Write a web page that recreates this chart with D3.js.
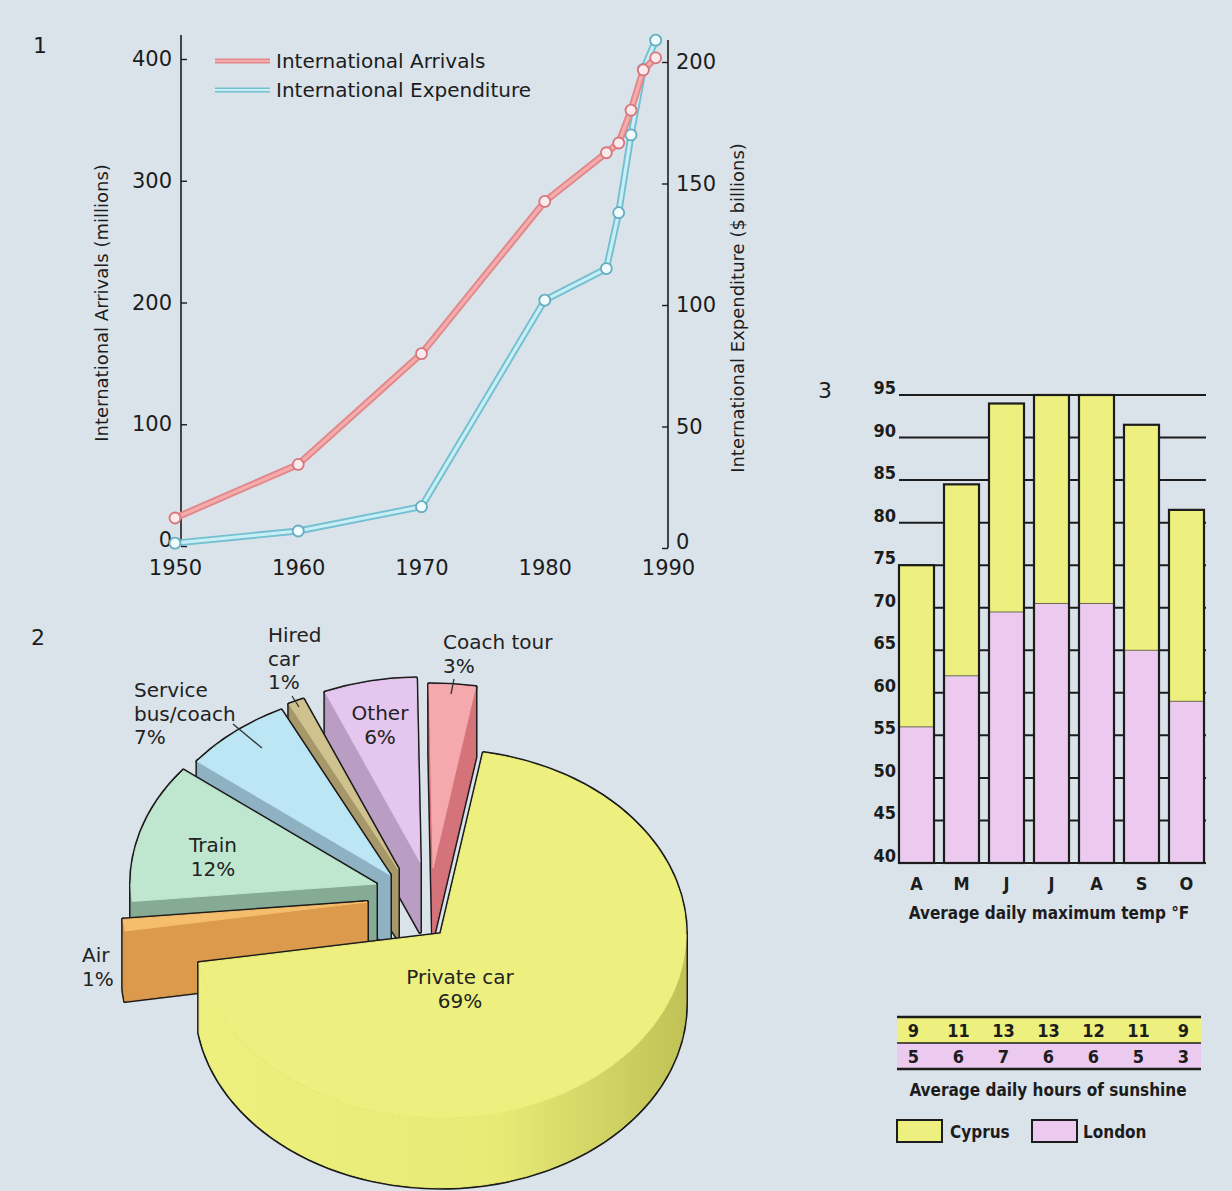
<!DOCTYPE html>
<html>
<head>
<meta charset="utf-8">
<script src="https://cdn.jsdelivr.net/npm/d3@7"></script>
<style>
    html, body { margin: 0; padding: 0; background: #dae3ea; }
    svg { display: block; }
</style>
</head>
<body>
<div id="fig"></div>
<script>
// Three tourism panels: arrivals/expenditure lines, transport-mode pie,
// Cyprus vs London temperature bars with a sunshine table.

// ---- data ----
var years = [1950, 1960, 1970, 1980, 1985, 1986, 1987, 1988, 1989];
var arrivals = [23, 67, 158, 283, 323, 331, 358, 391, 401];        // millions
var expenditure = [2, 7, 17, 102, 115, 138, 170, 197, 209];        // $ billions
var yearTicks = [1950, 1960, 1970, 1980, 1990];
var arrivalTicks = [0, 100, 200, 300, 400];
var expenditureTicks = [0, 50, 100, 150, 200];

var modes = ['Private car', 'Air', 'Train', 'Service bus/coach', 'Hired car', 'Other', 'Coach tour'];
var modeShares = [69, 1, 12, 7, 1, 6, 3];
var modeLabelLines = [['Private car'], ['Air'], ['Train'], ['Service', 'bus/coach'],
                      ['Hired', 'car'], ['Other'], ['Coach tour']];

var months = ['A', 'M', 'J', 'J', 'A', 'S', 'O'];
var cyprusTemp = [75, 84.5, 94, 95, 95, 91.5, 81.5];
var londonTemp = [56, 62, 69.5, 70.5, 70.5, 65, 59];
var tempTicks = [40, 45, 50, 55, 60, 65, 70, 75, 80, 85, 90, 95];
var cyprusSun = [9, 11, 13, 13, 12, 11, 9];
var londonSun = [5, 6, 7, 6, 6, 5, 3];

(function () {
    var W = 1232, H = 1191;
    var INK = '#1c1c1c';
    var SANS = '"DejaVu Sans", sans-serif';
    var COND = '"DejaVu Sans Condensed", "DejaVu Sans", sans-serif';

    var svg = d3.select('#fig').append('svg')
        .attr('width', W).attr('height', H)
        .attr('viewBox', '0 0 ' + W + ' ' + H);
    svg.append('rect').attr('width', W).attr('height', H).attr('fill', '#dae3ea');

    // panel numbers
    [['1', 40, 53], ['2', 38, 645], ['3', 825, 398]].forEach(function (p) {
        svg.append('text').attr('x', p[1]).attr('y', p[2])
            .attr('text-anchor', 'middle')
            .style('font', '22px ' + SANS).attr('fill', INK).text(p[0]);
    });

    // ================= 1 · line chart =================
    var x = d3.scaleLinear().domain([1950, 1990]).range([175, 668]);
    var yL = d3.scaleLinear().domain([0, 400]).range([546, 59]);
    var yR = d3.scaleLinear().domain([0, 200]).range([548, 62]);
    var g1 = svg.append('g');

    var leftX = x(1950) + 6, rightX = x(1990);
    g1.append('line').attr('x1', leftX).attr('x2', leftX).attr('y1', 35).attr('y2', yL(0))
        .attr('stroke', INK).attr('stroke-width', 1.6);
    g1.append('line').attr('x1', rightX).attr('x2', rightX).attr('y1', 40).attr('y2', yR(0))
        .attr('stroke', INK).attr('stroke-width', 1.6);

    function styleAxis(ax, size) {
        ax.select('.domain').remove();
        ax.selectAll('line').attr('stroke', INK).attr('stroke-width', 1.4);
        ax.selectAll('text').attr('fill', INK).style('font', size + 'px ' + SANS);
        // lift the zero label clear of the year labels
        ax.selectAll('.tick').filter(function (d) { return d === 0; })
            .select('text').attr('y', -6);
    }
    styleAxis(g1.append('g').attr('transform', 'translate(' + leftX + ',0)')
        .call(d3.axisLeft(yL).tickValues(arrivalTicks).tickSize(-6).tickPadding(9)), 21);
    styleAxis(g1.append('g').attr('transform', 'translate(' + rightX + ',0)')
        .call(d3.axisRight(yR).tickValues(expenditureTicks).tickSize(-6).tickPadding(8)), 21);
    styleAxis(g1.append('g').attr('transform', 'translate(0,551)')
        .call(d3.axisBottom(x).tickValues(yearTicks).tickFormat(d3.format('d')).tickSize(0).tickPadding(9)), 21);

    var series = [
        { vals: expenditure, y: yR, outer: '#74bfd0', inner: '#c8eef6', dot: '#f0fbfd', dotStroke: '#63adbf' },
        { vals: arrivals, y: yL, outer: '#e2888b', inner: '#f5acad', dot: '#fbeaec', dotStroke: '#d7767c' }
    ];
    series.forEach(function (s) {
        var line = d3.line().x(function (d, i) { return x(years[i]); })
            .y(function (d) { return s.y(d); });
        g1.append('path').datum(s.vals).attr('d', line).attr('fill', 'none')
            .attr('stroke', s.outer).attr('stroke-width', 7).attr('stroke-linejoin', 'round');
        g1.append('path').datum(s.vals).attr('d', line).attr('fill', 'none')
            .attr('stroke', s.inner).attr('stroke-width', 3.2).attr('stroke-linejoin', 'round');
        g1.selectAll(null).data(s.vals).enter().append('circle')
            .attr('cx', function (d, i) { return x(years[i]); })
            .attr('cy', function (d) { return s.y(d); })
            .attr('r', 5.5).attr('fill', s.dot)
            .attr('stroke', s.dotStroke).attr('stroke-width', 1.8);
    });

    // legend
    [['International Arrivals', series[1], 61], ['International Expenditure', series[0], 90]]
        .forEach(function (l) {
            g1.append('line').attr('x1', 215).attr('x2', 270).attr('y1', l[2]).attr('y2', l[2])
                .attr('stroke', l[1].outer).attr('stroke-width', 5);
            g1.append('line').attr('x1', 215).attr('x2', 270).attr('y1', l[2]).attr('y2', l[2])
                .attr('stroke', l[1].inner).attr('stroke-width', 2);
            g1.append('text').attr('x', 276).attr('y', l[2] + 7)
                .style('font', '20px ' + SANS).attr('fill', INK).text(l[0]);
        });

    // axis titles
    g1.append('text').attr('transform', 'translate(108,303) rotate(-90)')
        .attr('text-anchor', 'middle').style('font', '18px ' + SANS).attr('fill', INK)
        .text('International Arrivals (millions)');
    g1.append('text').attr('transform', 'translate(744,308) rotate(-90)')
        .attr('text-anchor', 'middle').style('font', '18px ' + SANS).attr('fill', INK)
        .text('International Expenditure ($ billions)');

    // ================= 2 · exploded 3-D pie =================
    var pieCx = 441, pieCy = 934, R = 245, K = 0.75, DEPTH = 70;
    var pieStart = 10 * Math.PI / 180;
    // screen offsets of each exploded slice (same order as modes)
    var sliceShift = [[0, 0], [-74, -32], [-65, -50], [-51, -59], [-43, -65], [-21, -72], [-8, -66]];
    var sliceTop = ['#edf07e', '#f5be6c', '#bfe6cf', '#bde6f5', '#cfc28f', '#e5c6ee', '#f6a9ac'];
    var sliceSide = ['url(#carSide)', '#db9a4c', '#86ab95', '#8fb2c3', '#a7986a', '#b99dc3', '#d5737a'];

    var defs = svg.append('defs');
    var grad = defs.append('linearGradient').attr('id', 'carSide')
        .attr('x1', 0).attr('x2', 1).attr('y1', 0).attr('y2', 0);
    [[0, '#edf07e'], [0.62, '#e7ea75'], [1, '#c0c256']].forEach(function (s) {
        grad.append('stop').attr('offset', s[0]).attr('stop-color', s[1]);
    });

    var arcs = d3.pie().sort(null).startAngle(pieStart).endAngle(pieStart + 2 * Math.PI)(modeShares);
    var g2 = svg.append('g');

    function drawSlice(i) {
        var a0 = arcs[i].startAngle, a1 = arcs[i].endAngle;
        var cx = pieCx + sliceShift[i][0], cy = pieCy + sliceShift[i][1];
        function pt(t, dz) { return [cx + Math.sin(t) * R, cy - Math.cos(t) * R * K + (dz || 0)]; }
        var A = 'A' + R + ',' + (R * K) + ' 0 ';
        var faces = [];

        // outer rim wall (front half only)
        var lo = Math.max(a0, Math.PI / 2), hi = Math.min(a1, 3 * Math.PI / 2);
        if (hi > lo) {
            faces.push([sliceSide[i], 'M' + pt(lo) + A + '0 1 ' + pt(hi) + 'L' + pt(hi, DEPTH) +
                A + '0 0 ' + pt(lo, DEPTH) + 'Z']);
        }
        // radial cut faces that face the viewer
        [[a0, Math.sin(a0) < 0], [a1, Math.sin(a1) > 0]].forEach(function (f) {
            if (!f[1]) return;
            faces.push([sliceSide[i], 'M' + [cx, cy] + 'L' + pt(f[0]) + 'L' + pt(f[0], DEPTH) +
                'L' + [cx, cy + DEPTH] + 'Z']);
        });
        // top face
        faces.push([sliceTop[i], 'M' + [cx, cy] + 'L' + pt(a0) + A +
            (a1 - a0 > Math.PI ? 1 : 0) + ' 1 ' + pt(a1) + 'Z']);

        var sg = g2.append('g');
        // wide strokes first, then plain fills: only the silhouette keeps a line
        faces.forEach(function (f) {
            sg.append('path').attr('d', f[1]).attr('fill', f[0])
                .attr('stroke', INK).attr('stroke-width', 4).attr('stroke-linejoin', 'round');
        });
        faces.forEach(function (f) {
            sg.append('path').attr('d', f[1]).attr('fill', f[0])
                .attr('stroke', f[0]).attr('stroke-width', 1);
        });
    }
    [6, 5, 4, 3, 2, 1, 0].forEach(drawSlice);

    // labels (anchor position of first line, anchor)
    var labelPos = [[460, 984, 'middle'], [82, 962, 'start'], [213, 852, 'middle'],
                    [134, 697, 'start'], [268, 642, 'start'], [380, 720, 'middle'], [443, 649, 'start']];
    modes.forEach(function (m, i) {
        var lines = modeLabelLines[i].concat([modeShares[i] + '%']);
        var t = g2.append('text').attr('text-anchor', labelPos[i][2])
            .style('font', '20px ' + SANS).attr('fill', '#222');
        lines.forEach(function (s, j) {
            t.append('tspan').attr('x', labelPos[i][0]).attr('y', labelPos[i][1] + j * 23.5).text(s);
        });
    });
    // leader lines
    [[454, 679, 451, 694], [292, 696, 299, 707], [233, 724, 262, 748]].forEach(function (l) {
        g2.append('line').attr('x1', l[0]).attr('y1', l[1]).attr('x2', l[2]).attr('y2', l[3])
            .attr('stroke', '#333').attr('stroke-width', 1.3);
    });

    // ================= 3 · temperature bars =================
    var YELLOW = '#edf07e', PINK = '#ecc9ef';
    var xb = d3.scaleBand().domain(d3.range(months.length)).range([899, 1204]).paddingInner(0.222);
    var yT = d3.scaleLinear().domain([40, 95]).range([863, 395]);
    var g3 = svg.append('g');

    g3.selectAll('.grid').data(tempTicks).enter().append('line')
        .attr('x1', xb.range()[0]).attr('x2', xb.range()[1] + 2)
        .attr('y1', function (d) { return yT(d); }).attr('y2', function (d) { return yT(d); })
        .attr('stroke', INK).attr('stroke-width', 2);

    var bw = xb.bandwidth();
    months.forEach(function (m, i) {
        var bx = xb(i);
        g3.append('rect').attr('x', bx).attr('y', yT(cyprusTemp[i]))
            .attr('width', bw).attr('height', yT(40) - yT(cyprusTemp[i])).attr('fill', YELLOW);
        g3.append('rect').attr('x', bx).attr('y', yT(londonTemp[i]))
            .attr('width', bw).attr('height', yT(40) - yT(londonTemp[i])).attr('fill', PINK);
        g3.append('line').attr('x1', bx).attr('x2', bx + bw)
            .attr('y1', yT(londonTemp[i])).attr('y2', yT(londonTemp[i]))
            .attr('stroke', '#6a6a55').attr('stroke-width', 1);
        g3.append('rect').attr('x', bx).attr('y', yT(cyprusTemp[i]))
            .attr('width', bw).attr('height', yT(40) - yT(cyprusTemp[i]))
            .attr('fill', 'none').attr('stroke', INK).attr('stroke-width', 2.2);
    });

    g3.selectAll('.tl').data(tempTicks).enter().append('text')
        .attr('x', 896).attr('y', function (d) { return yT(d) - 1; })
        .attr('text-anchor', 'end').style('font', 'bold 18px ' + COND).attr('fill', INK)
        .text(function (d) { return d; });

    g3.selectAll('.ml').data(months).enter().append('text')
        .attr('x', function (d, i) { return xb(i) + bw / 2; }).attr('y', 890)
        .attr('text-anchor', 'middle').style('font', 'bold 18px ' + COND).attr('fill', INK)
        .text(function (d) { return d; });
    g3.append('text').attr('x', 1049).attr('y', 919).attr('text-anchor', 'middle')
        .style('font', 'bold 17px ' + COND).attr('fill', INK)
        .text('Average daily maximum temp \u00b0F');

    // sunshine table
    var tx0 = 897, tx1 = 1201, rowTop = 1017, rowH = 26;
    g3.append('rect').attr('x', tx0).attr('y', rowTop).attr('width', tx1 - tx0).attr('height', rowH)
        .attr('fill', YELLOW);
    g3.append('rect').attr('x', tx0).attr('y', rowTop + rowH).attr('width', tx1 - tx0).attr('height', rowH)
        .attr('fill', PINK);
    [[rowTop, 2.4], [rowTop + rowH, 1.4], [rowTop + 2 * rowH, 2.4]].forEach(function (l) {
        g3.append('line').attr('x1', tx0).attr('x2', tx1).attr('y1', l[0]).attr('y2', l[0])
            .attr('stroke', INK).attr('stroke-width', l[1]);
    });
    [cyprusSun, londonSun].forEach(function (row, r) {
        g3.selectAll(null).data(row).enter().append('text')
            .attr('x', function (d, i) { return xb(i) + bw / 2 - 3; })
            .attr('y', rowTop + r * rowH + 20)
            .attr('text-anchor', 'middle').style('font', 'bold 18px ' + COND).attr('fill', INK)
            .text(function (d) { return d; });
    });
    g3.append('text').attr('x', 1048).attr('y', 1096).attr('text-anchor', 'middle')
        .style('font', 'bold 17px ' + COND).attr('fill', INK)
        .text('Average daily hours of sunshine');

    // legend
    [['Cyprus', YELLOW, 897, 950], ['London', PINK, 1032, 1083]].forEach(function (l) {
        g3.append('rect').attr('x', l[2]).attr('y', 1120).attr('width', 45).attr('height', 22)
            .attr('fill', l[1]).attr('stroke', INK).attr('stroke-width', 2);
        g3.append('text').attr('x', l[3]).attr('y', 1138)
            .style('font', 'bold 17px ' + COND).attr('fill', INK).text(l[0]);
    });
})();
</script>
</body>
</html>
